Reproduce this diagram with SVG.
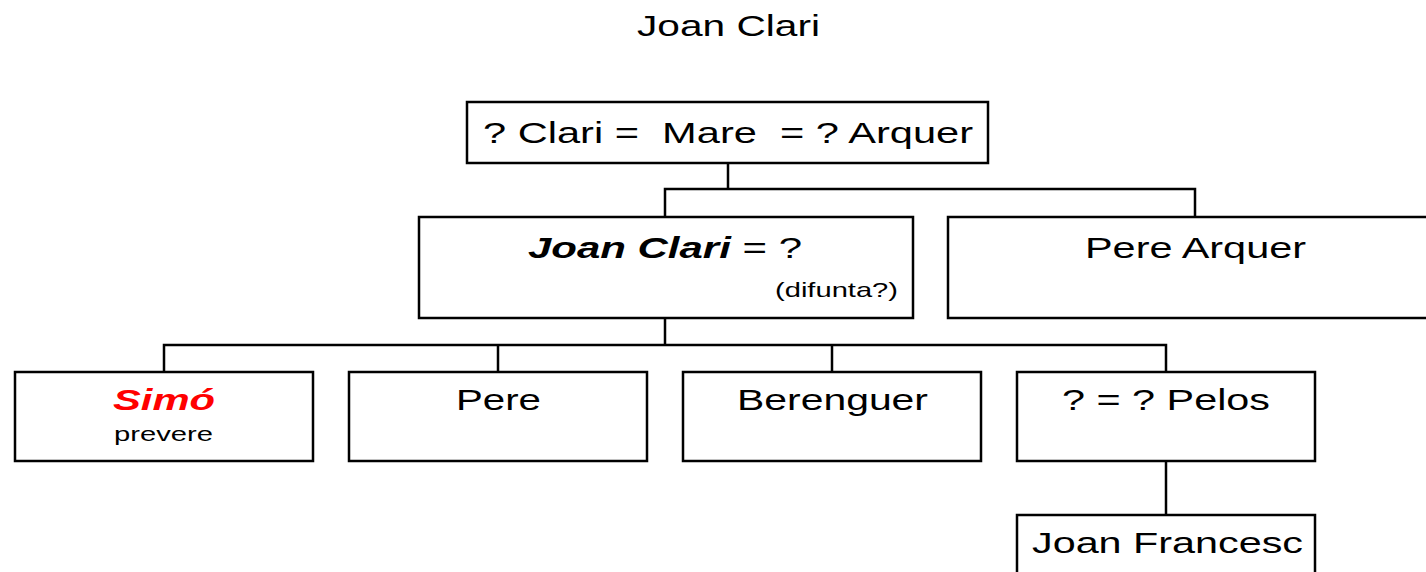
<svg xmlns="http://www.w3.org/2000/svg" width="1426" height="572" viewBox="0 0 1426 572">
<style>
.box{fill:#fff;stroke:#000;stroke-width:2.5}
.t{font-family:"Liberation Sans",Arial,sans-serif;font-size:30px;fill:#000}
.s{font-family:"Liberation Sans",Arial,sans-serif;font-size:21px;fill:#000}
.bi{font-weight:bold;font-style:italic}
#conn path{fill:none;stroke:#000;stroke-width:2.5}
</style>
<rect width="1426" height="572" fill="#fff"/>
<text class="t" x="637" y="36" textLength="183" lengthAdjust="spacingAndGlyphs">Joan Clari</text>
<g id="conn">
<path d="M728 163V189M665 217V189H1195V217"/>
<path d="M665 318V345M164 372V345H1166V372M498 345V372M832 345V372"/>
<path d="M1166 461V515"/>
</g>
<g id="mare">
<rect class="box" x="467" y="102" width="521" height="61"/>
<text class="t" x="483" y="143" xml:space="preserve" textLength="490" lengthAdjust="spacingAndGlyphs">? Clari =  Mare  = ? Arquer</text>
</g>
<g id="joanclari">
<rect class="box" x="419" y="217" width="494" height="101"/>
<text class="t" x="528" y="258" textLength="274" lengthAdjust="spacingAndGlyphs"><tspan class="bi">Joan Clari</tspan> = ?</text>
<text class="s" x="775" y="297" textLength="123" lengthAdjust="spacingAndGlyphs">(difunta?)</text>
</g>
<g id="perearquer">
<rect class="box" x="948" y="217" width="490" height="101"/>
<text class="t" x="1085" y="258" textLength="221" lengthAdjust="spacingAndGlyphs">Pere Arquer</text>
</g>
<g id="simo">
<rect class="box" x="15" y="372" width="298" height="89"/>
<text class="t bi" x="113" y="410" style="fill:#ff0000" textLength="102" lengthAdjust="spacingAndGlyphs">Simó</text>
<text class="s" x="114" y="441" textLength="99" lengthAdjust="spacingAndGlyphs">prevere</text>
</g>
<g id="pere">
<rect class="box" x="349" y="372" width="298" height="89"/>
<text class="t" x="456" y="410" textLength="85" lengthAdjust="spacingAndGlyphs">Pere</text>
</g>
<g id="berenguer">
<rect class="box" x="683" y="372" width="298" height="89"/>
<text class="t" x="737" y="410" textLength="191" lengthAdjust="spacingAndGlyphs">Berenguer</text>
</g>
<g id="pelos">
<rect class="box" x="1017" y="372" width="298" height="89"/>
<text class="t" x="1062" y="410" textLength="208" lengthAdjust="spacingAndGlyphs">? = ? Pelos</text>
</g>
<g id="joanfrancesc">
<rect class="box" x="1017" y="515" width="298" height="80"/>
<text class="t" x="1032" y="553" textLength="271" lengthAdjust="spacingAndGlyphs">Joan Francesc</text>
</g>
</svg>
